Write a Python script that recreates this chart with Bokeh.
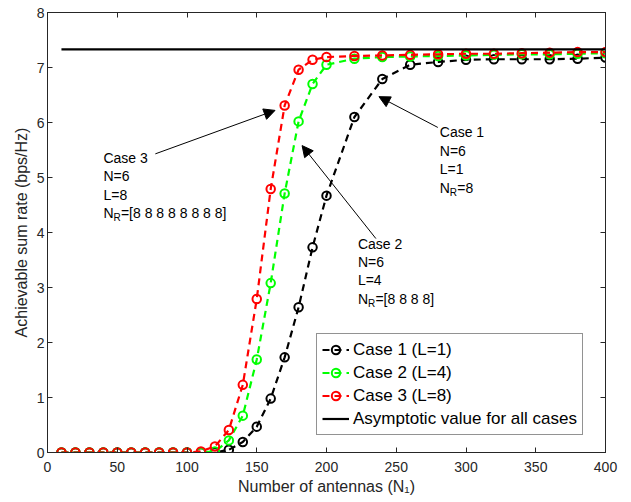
from bokeh.plotting import figure
from bokeh.models import (Label, Arrow, NormalHead, Legend, LegendItem, LinearAxis,
                          FixedTicker, Range1d, ColumnDataSource)
from bokeh.embed import file_html
from bokeh.resources import INLINE

# ---------------- data ----------------
n_antennas = [10, 20, 30, 40, 50, 60, 70, 80, 90, 100, 110, 120, 130, 140, 150, 160, 170, 180, 190, 200,
              220, 240, 260, 280, 300, 320, 340, 360, 380, 400]
case1_rate = [0, 0, 0, 0, 0, 0, 0, 0, 0, 0, 0, 0.0, 0.05, 0.19, 0.47, 0.98, 1.73, 2.64, 3.73, 4.67,
              6.10, 6.79, 7.05, 7.10, 7.14, 7.15, 7.15, 7.15, 7.16, 7.18]
case2_rate = [0, 0, 0, 0, 0, 0, 0, 0, 0, 0, 0, 0.02, 0.22, 0.67, 1.69, 3.08, 4.71, 6.02, 6.70, 7.05,
              7.16, 7.19, 7.20, 7.21, 7.22, 7.23, 7.24, 7.24, 7.25, 7.26]
case3_rate = [0, 0, 0, 0, 0, 0, 0, 0, 0, 0, 0.02, 0.11, 0.41, 1.23, 2.79, 4.79, 6.31, 6.96, 7.14, 7.19,
              7.21, 7.22, 7.23, 7.24, 7.25, 7.25, 7.26, 7.27, 7.28, 7.28]
asym_x = [10, 400]
asym_rate = [7.33, 7.33]

series_labels = ["Case 1 (L=1)", "Case 2 (L=4)", "Case 3 (L=8)"]
asym_label = "Asymptotic value for all cases"
x_ticks = [0, 50, 100, 150, 200, 250, 300, 350, 400]
y_ticks = [0, 1, 2, 3, 4, 5, 6, 7, 8]

FONT = "Liberation Sans"
AXC = "#262626"

p = figure(frame_width=558, frame_height=440, x_range=Range1d(0, 400), y_range=Range1d(0, 8),
           output_backend="svg", toolbar_location=None,
           min_border_left=47, min_border_top=12, min_border_right=13, min_border_bottom=40,
           background_fill_color="white", border_fill_color="white")
p.grid.visible = False
p.outline_line_color = AXC

for ax, ticks in ((p.xaxis[0], x_ticks), (p.yaxis[0], y_ticks)):
    ax.ticker = FixedTicker(ticks=ticks)
    ax.major_tick_in = 5
    ax.major_tick_out = 0
    ax.minor_tick_line_color = None
    ax.axis_line_color = AXC
    ax.major_tick_line_color = AXC
    ax.major_label_text_font = FONT
    ax.major_label_text_font_size = "14px"
    ax.major_label_text_color = AXC
    ax.axis_label_text_font = FONT
    ax.axis_label_text_font_size = "16px"
    ax.axis_label_text_font_style = "normal"
    ax.axis_label_text_color = AXC

p.xaxis.axis_label = "Number of antennas (N\u2081)"
p.yaxis.axis_label = "Achievable sum rate (bps/Hz)"
p.xaxis.major_label_standoff = 9
p.xaxis.axis_label_standoff = 3
p.yaxis.major_label_standoff = 3
p.yaxis.axis_label_standoff = 4

for side, ticks in (("right", y_ticks), ("above", x_ticks)):
    ax = LinearAxis(ticker=FixedTicker(ticks=ticks), major_tick_in=5, major_tick_out=0,
                    minor_tick_line_color=None, axis_line_color=AXC, major_tick_line_color=AXC,
                    major_label_overrides={t: "" for t in ticks}, major_label_standoff=0)
    p.add_layout(ax, side)

colors = ["black", "#00ff00", "#ff0000"]
items = []
for rate, col, lab in zip((case1_rate, case2_rate, case3_rate), colors, series_labels):
    src = ColumnDataSource(dict(x=n_antennas, y=rate))
    r1 = p.line("x", "y", source=src, line_color=col, line_width=2.2, line_dash="7 5")
    r2 = p.scatter("x", "y", source=src, marker="circle", size=8.5, fill_color=None,
                   line_color=col, line_width=2)
    items.append(LegendItem(label=lab, renderers=[r1, r2]))

ra = p.line(asym_x, asym_rate, line_color="black", line_width=2.2)
items.append(LegendItem(label=asym_label, renderers=[ra]))

legend = Legend(items=items, location=(269, 17), label_text_font=FONT, label_text_font_size="17px",
                label_text_color="black", border_line_color=AXC, border_line_width=1,
                padding=5, spacing=2, label_height=21, glyph_height=21, glyph_width=27,
                label_standoff=4, margin=0, background_fill_alpha=1)
p.add_layout(legend, "center")

def add_text(x, y, lines, ratio_sub, rest):
    dy = 0.335
    for i, t in enumerate(lines):
        p.add_layout(Label(x=x, y=y - i * dy, text=t, text_font=FONT, text_font_size="14px",
                           text_baseline="middle", text_color="black"))
    yy = y - len(lines) * dy
    p.add_layout(Label(x=x, y=yy, text="N", text_font=FONT, text_font_size="14px",
                       text_baseline="middle", text_color="black"))
    p.add_layout(Label(x=x, y=yy, x_offset=10, y_offset=-5, text=ratio_sub, text_font=FONT,
                       text_font_size="10px", text_baseline="middle", text_color="black"))
    p.add_layout(Label(x=x, y=yy, x_offset=17.5, text=rest, text_font=FONT, text_font_size="14px",
                       text_baseline="middle", text_color="black"))

add_text(40.1, 5.36, ["Case 3", "N=6", "L=8"], "R", "=[8 8 8 8 8 8 8 8]")
add_text(222.5, 3.80, ["Case 2", "N=6", "L=4"], "R", "=[8 8 8 8]")
add_text(281.2, 5.82, ["Case 1", "N=6", "L=1"], "R", "=8")

for xs, ys, xe, ye in ((77.3, 5.43, 163.1, 6.22), (235.4, 3.89, 182.5, 5.58), (279.8, 5.91, 237.6, 6.47)):
    p.add_layout(Arrow(end=NormalHead(size=11, fill_color="black", line_color="black", line_width=1),
                       x_start=xs, y_start=ys, x_end=xe, y_end=ye, line_color="black", line_width=1))

open("out.html", "w").write(file_html(p, INLINE))
